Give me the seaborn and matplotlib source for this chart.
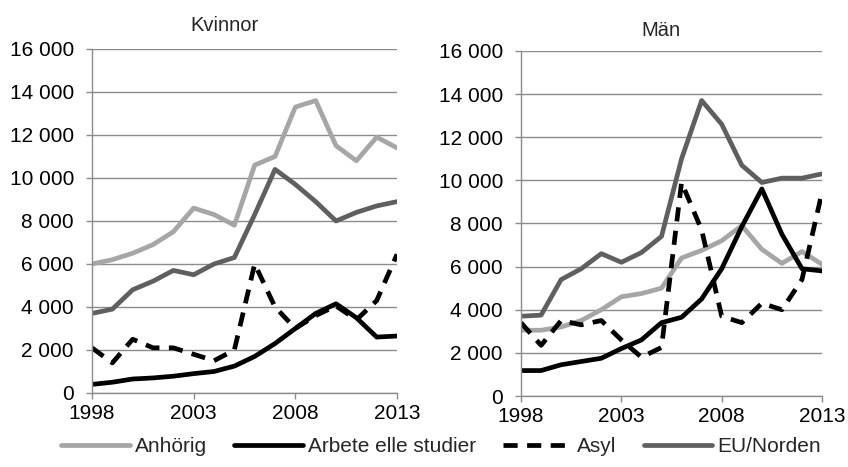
import numpy as np
import pandas as pd
import matplotlib.pyplot as plt
import matplotlib.ticker as mticker
import seaborn as sns

years = list(range(1998, 2014))

# Kvinnor
kv_anhorig = [6000, 6200, 6500, 6900, 7500, 8600, 8300, 7800, 10600, 11000,
              13300, 13600, 11500, 10800, 11900, 11400]
kv_arbete = [400, 500, 650, 700, 780, 900, 1000, 1250, 1700, 2300,
             3000, 3700, 4150, 3500, 2600, 2650]
kv_asyl = [2100, 1400, 2500, 2100, 2100, 1800, 1500, 2000, 6000, 4000,
           3000, 3600, 4050, 3400, 4300, 6450]
kv_eu = [3700, 3900, 4800, 5200, 5700, 5500, 6000, 6300, 8300, 10400,
         9700, 8900, 8000, 8400, 8700, 8900]

# Män
man_anhorig = [3050, 3050, 3200, 3500, 4000, 4600, 4750, 5000, 6400, 6750,
               7200, 7900, 6800, 6150, 6700, 6100]
man_arbete = [1180, 1180, 1450, 1600, 1750, 2200, 2600, 3400, 3650, 4500,
              5900, 7850, 9600, 7500, 5900, 5800]
man_asyl = [3400, 2350, 3500, 3300, 3500, 2600, 1800, 2250, 9900, 7700,
            3700, 3400, 4300, 4000, 5400, 9450]
man_eu = [3700, 3750, 5400, 5900, 6600, 6200, 6650, 7400, 11000, 13700,
          12600, 10700, 9900, 10100, 10100, 10300]

series = ["Anhörig", "Arbete elle studier", "Asyl", "EU/Norden"]
panels = {
    "Kvinnor": [kv_anhorig, kv_arbete, kv_asyl, kv_eu],
    "Män": [man_anhorig, man_arbete, man_asyl, man_eu],
}


def to_long(values):
    rows = []
    for name, vals in zip(series, values):
        for y, v in zip(years, vals):
            rows.append({"year": y, "value": v, "serie": name})
    return pd.DataFrame(rows)


def main():
    sns.set_theme(style="white")
    plt.rcParams["font.family"] = ["Liberation Sans", "DejaVu Sans"]

    palette = {"Anhörig": "#a6a6a6", "Arbete elle studier": "#000000",
               "Asyl": "#000000", "EU/Norden": "#5f5f5f"}
    dashes = {"Anhörig": "", "Arbete elle studier": "", "Asyl": (3, 2), "EU/Norden": ""}

    fig = plt.figure(figsize=(8.48, 4.67), dpi=100)
    axes = [
        fig.add_axes([0.1085, 0.1585, 0.3597, 0.7366]),
        fig.add_axes([0.6144, 0.152, 0.355, 0.739]),
    ]
    title_pos = [(0.2653, 0.9336), (0.7795, 0.9229)]

    for ax, (title, values), tp in zip(axes, panels.items(), title_pos):
        df = to_long(values)
        sns.lineplot(data=df, x="year", y="value", hue="serie", style="serie",
                     hue_order=series, style_order=series, palette=palette,
                     dashes=dashes, linewidth=3.4, legend=False, ax=ax)
        ax.set_xlim(1998, 2013)
        ax.set_ylim(0, 16000)
        ax.set_xticks([1998, 2003, 2008, 2013])
        ax.set_yticks(range(0, 16001, 2000))
        ax.yaxis.set_major_formatter(
            mticker.FuncFormatter(lambda v, p: f"{int(v):,}".replace(",", " ")))
        ax.grid(axis="y", color="#8c8c8c", linewidth=1)
        ax.set_axisbelow(True)
        for side in ["top", "right"]:
            ax.spines[side].set_visible(False)
        for side in ["left", "bottom"]:
            ax.spines[side].set_color("#8c8c8c")
            ax.spines[side].set_linewidth(1)
        ax.tick_params(axis="both", labelsize=15, colors="#8c8c8c", labelcolor="black",
                       length=4, width=1, direction="out", bottom=True, left=True)
        ax.tick_params(axis="y", pad=9)
        ax.tick_params(axis="x", pad=4)
        ax.set_xlabel("")
        ax.set_ylabel("")
        fig.text(tp[0], tp[1], title, fontsize=14.5, ha="center", va="baseline")

    handles = axes[0].get_lines()[:4]
    fig.legend(handles, series, loc="center", bbox_to_anchor=(0.52, 1 - 447 / 467),
               ncol=4, frameon=False, fontsize=15, handlelength=3.3,
               handletextpad=0.25, columnspacing=1.3, borderpad=0)

    fig.savefig("out.png", dpi=100)


if __name__ == "__main__":
    main()
